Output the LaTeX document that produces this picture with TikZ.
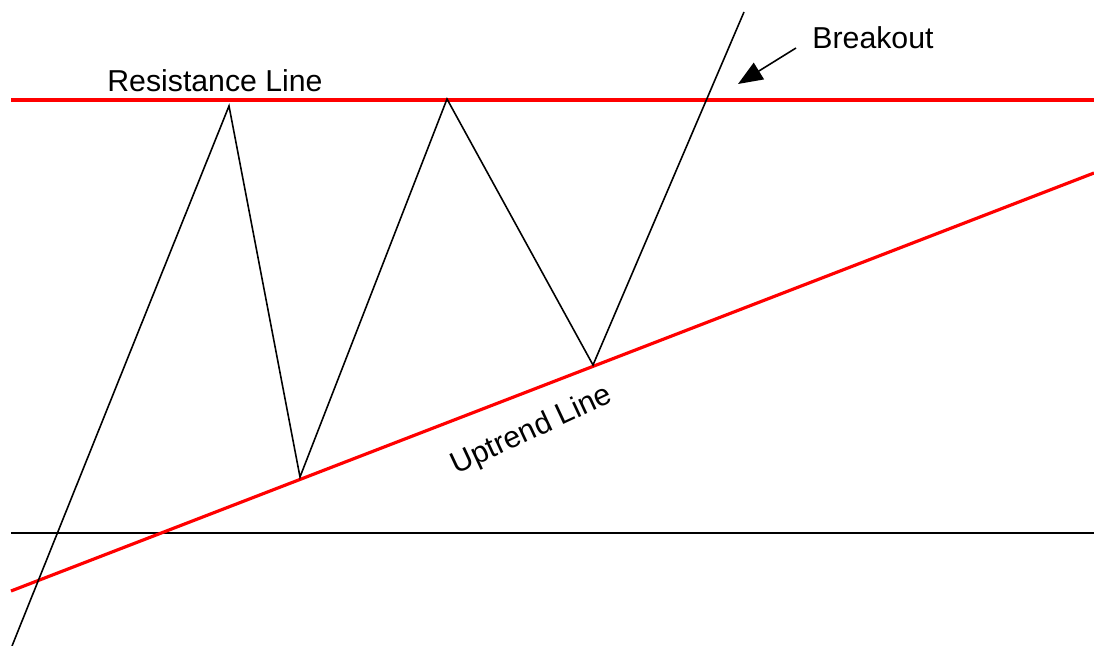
\documentclass[tikz,border=0pt]{standalone}
\usepackage{fontspec}
\setmainfont{Liberation Sans}
\usepackage{xcolor}
\usetikzlibrary{arrows.meta}
\definecolor{trred}{HTML}{FF0000}
\definecolor{trink}{HTML}{000000}
\tikzset{
  tprice/.style={draw=trink, line width=0.45pt},
  tbase/.style={draw=trink, line width=0.45pt},
  tred/.style={draw=trred, line width=0.9pt},
  tlabel/.style={font=\fontsize{8.6}{10}\selectfont, inner sep=0pt},
  tpoint/.style={draw=trink, line width=0.45pt, -{Triangle[length=7pt, width=5.5pt]}}
}
\begin{document}
\begin{tikzpicture}[x=0.01cm, y=-0.01cm]
  \useasboundingbox (0,0) rectangle (1094,646);
  % turning points of the price
  \coordinate (p0) at (12,646);\coordinate (p1) at (229,106);\coordinate (p2) at (300,477);
  \coordinate (p3) at (447,99);\coordinate (p4) at (593,365);\coordinate (p5) at (744,12);
  % resistance, uptrend and base lines
  \coordinate (r0) at (11,100);\coordinate (r1) at (1094,100);
  \coordinate (u0) at (11,591);\coordinate (u1) at (1094,173);
  \coordinate (b0) at (11,533);\coordinate (b1) at (1094,533);
  \path[tbase] (b0) -- (b1);
  \path[tred] (r0) -- (r1);
  \path[tred] (u0) -- (u1);
  \path[tprice] (p0) -- (p1) -- (p2) -- (p3) -- (p4) -- (p5);
  % labels
  \node[tlabel] (res) at (215,81) {Resistance Line};
  \node[tlabel, rotate=25] (upt) at (532,431) {Uptrend Line};
  \node[tlabel] (brk) at (873,38) {Breakout};
  \coordinate (a0) at (796,48);\coordinate (a1) at (738,84);
  \path[tpoint] (a0) -- (a1);
\end{tikzpicture}
\end{document}
